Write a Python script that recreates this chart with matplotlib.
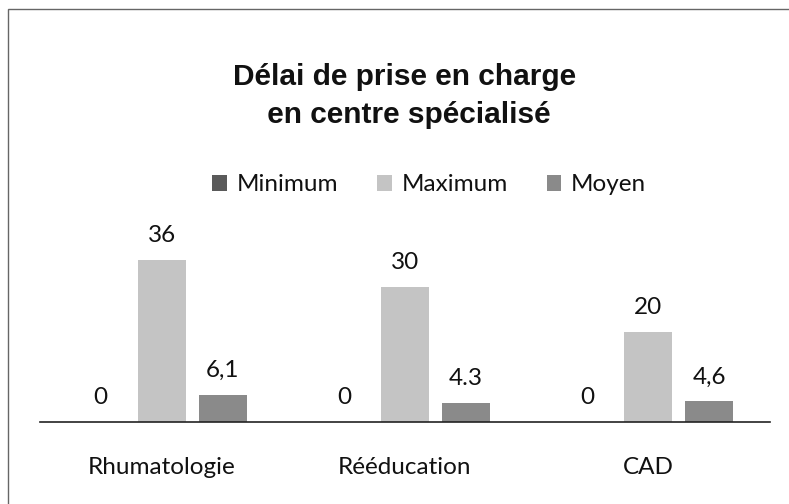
import matplotlib.pyplot as plt
import numpy as np
from matplotlib.patches import Rectangle

categories = ['Rhumatologie', 'Rééducation', 'CAD']
series = ['Minimum', 'Maximum', 'Moyen']
minimum = [0, 0, 0]
maximum = [36, 30, 20]
moyen = [6.1, 4.3, 4.6]
labels_min = ['0', '0', '0']
labels_max = ['36', '30', '20']
labels_moy = ['6,1', '4.3', '4,6']

colors = {'Minimum': '#5a5a5a', 'Maximum': '#c4c4c4', 'Moyen': '#8a8a8a'}
font = 'Lato'

fig = plt.figure(figsize=(7.89, 5.04), dpi=100)
ax = fig.add_axes([40/789, 1 - 422/504, 730/789, 180/504])

x = np.arange(len(categories))
width = 0.198
offset = 0.251
data = [(minimum, labels_min), (maximum, labels_max), (moyen, labels_moy)]
for i, (name, (vals, labs)) in enumerate(zip(series, data)):
    pos = x + (i - 1) * offset
    bars = ax.bar(pos, vals, width, color=colors[name], label=name)
    ax.bar_label(bars, labels=labs, padding=10, fontsize=17.5, family=font, color='#111111')

ax.set_xlim(-0.5, 2.5)
ax.set_ylim(0, 40)
ax.set_yticks([])
ax.set_xticks(x)
ax.set_xticklabels(categories, fontsize=17.5, family=font, color='#111111')
ax.tick_params(axis='x', length=0, pad=25)
for s in ['top', 'right', 'left']:
    ax.spines[s].set_visible(False)
ax.spines['bottom'].set_color('#222222')
ax.spines['bottom'].set_linewidth(1.2)

fig.text(0.513, 0.81, 'Délai de prise en charge\n en centre spécialisé', ha='center',
         va='center', fontsize=21.5, fontweight='bold', family='Liberation Sans',
         linespacing=1.45, color='#111111')

fig.legend(loc='center', bbox_to_anchor=(0.544, 0.633), ncol=3, frameon=False,
           prop={'family': font, 'size': 17.5}, handlelength=0.6, handleheight=0.6,
           handletextpad=0.4, columnspacing=1.6, labelcolor='#111111')

fig.patches.append(Rectangle((8/789, -0.05), 1.0, 1 - 9/504 + 0.05,
                             transform=fig.transFigure, fill=False,
                             edgecolor='#666666', linewidth=1.0))

fig.savefig('out.png', dpi=100)
